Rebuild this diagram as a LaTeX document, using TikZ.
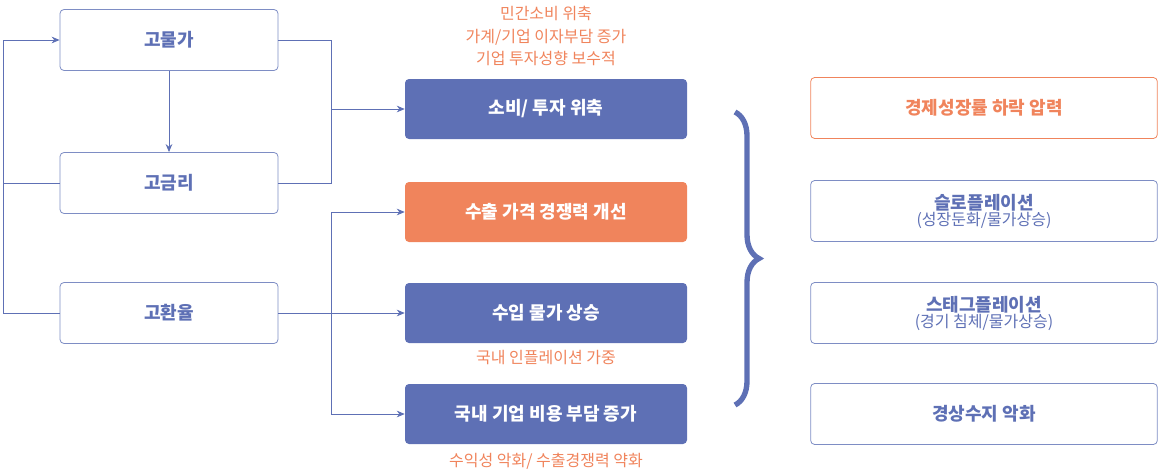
\documentclass[tikz,border=0pt]{standalone}
\usepackage{fontspec}
\setmainfont{Noto Sans CJK KR}
\usetikzlibrary{arrows.meta,decorations.pathreplacing}
\definecolor{bl}{HTML}{5E70B5}
\definecolor{og}{HTML}{F0845C}
\begin{document}
\begin{tikzpicture}[x=0.75pt,y=-0.75pt,
 lbox/.style={draw=bl!80,rounded corners=3pt,minimum width=163.5pt,minimum height=45.75pt,text=bl,font=\fontsize{13.5}{15}\selectfont\bfseries,line width=0.6pt},
 cbox/.style={fill=bl,rounded corners=3pt,minimum width=211.5pt,minimum height=45pt,text=white,font=\fontsize{13.5}{15}\selectfont\bfseries},
 rbox/.style={draw=bl!80,rounded corners=3pt,minimum width=260pt,minimum height=45.75pt,text=bl,font=\fontsize{13.5}{15}\selectfont\bfseries,align=center,line width=0.6pt},
 note/.style={text=og,font=\fontsize{12}{17}\selectfont,align=center},
 ln/.style={draw=bl,line width=0.6pt},
 ar/.style={ln,-{Stealth[length=6pt,width=5pt]}}]
\useasboundingbox (0,0) rectangle (1160,471);
\node[lbox] (a) at (169,40) {고물가};
\node[lbox] (b) at (169,183) {고금리};
\node[lbox] (c) at (169,313) {고환율};
\node[cbox] (s1) at (546,109) {소비/ 투자 위축};
\node[cbox,fill=og] (s2) at (546,212) {수출 가격 경쟁력 개선};
\node[cbox] (s3) at (546,313) {수입 물가 상승};
\node[cbox] (s4) at (546,414) {국내 기업 비용 부담 증가};
\node[rbox,draw=og,text=og] (r1) at (984,108) {경제성장률 하락 압력};
\node[rbox] (r2) at (984,211) {슬로플레이션\\[-3pt]{\fontsize{12}{14}\selectfont\mdseries (성장둔화/물가상승)}};
\node[rbox] (r3) at (984,313) {스태그플레이션\\[-3pt]{\fontsize{12}{14}\selectfont\mdseries (경기 침체/물가상승)}};
\node[rbox] (r4) at (984,414) {경상수지 악화};
\node[note] (n1) at (546,36) {민간소비 위축\\가계/기업 이자부담 증가\\기업 투자성향 보수적};
\node[note] (n2) at (546,358) {국내 인플레이션 가중};
\node[note] (n3) at (546,461) {수익성 악화/ 수출경쟁력 약화};
\coordinate (L1) at (3,40); \coordinate (L2) at (3,313);
\coordinate (R1) at (331,40); \coordinate (R2) at (331,183); \coordinate (R3) at (331,109);
\coordinate (Q1) at (331,212); \coordinate (Q2) at (331,414); \coordinate (Q3) at (331,313);
\draw[ar] (a) -- (b);
\draw[ln] (b.west) -| (L2) -- (c.west);
\draw[ar] (L2) -- (L1) -- (a.west);
\draw[ln] (a.east) -- (R1) -- (R2) -- (b.east);
\draw[ar] (R3) -- (s1.west);
\draw[ln] (c.east) -- (Q3);
\draw[ar] (Q3) -- (s3.west);
\draw[ar] (Q3) -- (Q1) -- (s2.west);
\draw[ar] (Q3) -- (Q2) -- (s4.west);
\coordinate (B1) at (735,112); \coordinate (B2) at (735,405);
\draw[ln,line width=4pt,decorate,decoration={brace,amplitude=18pt}] (B1) -- (B2);
\end{tikzpicture}
\end{document}
